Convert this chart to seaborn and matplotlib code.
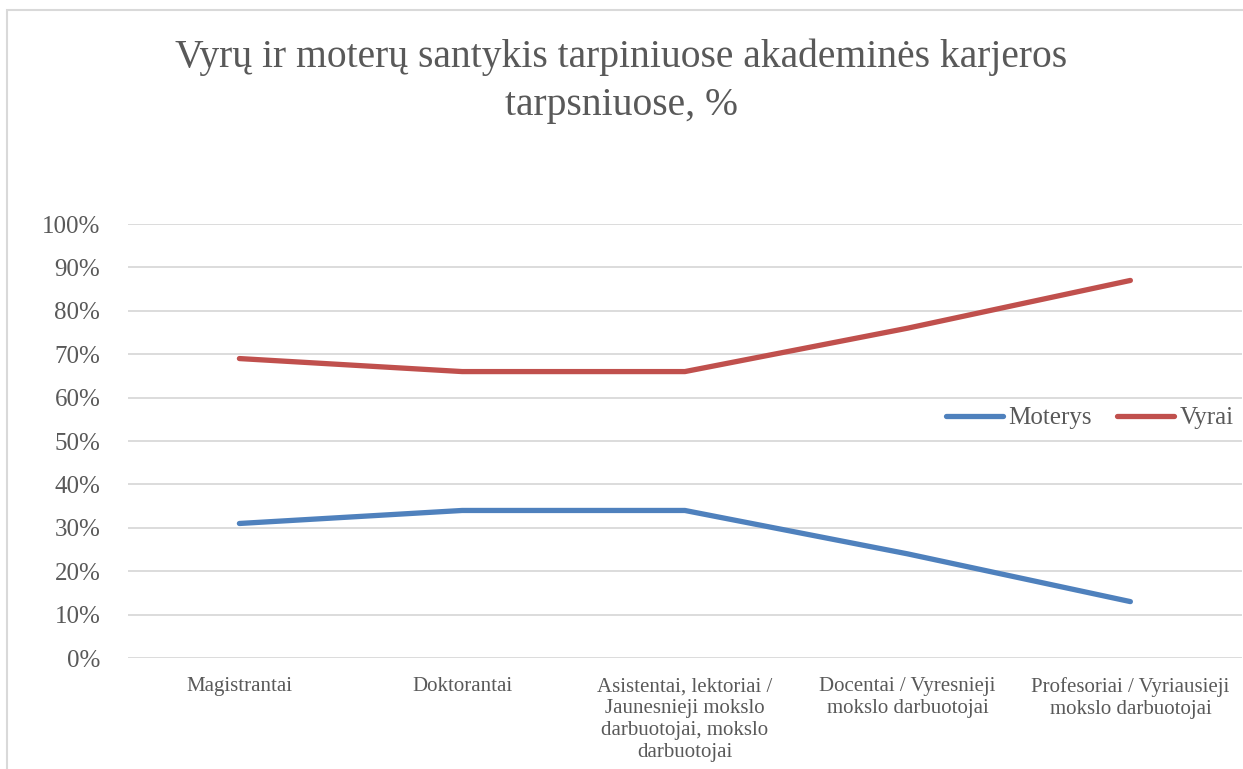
import numpy as np
import pandas as pd
import matplotlib
matplotlib.use("Agg")
import matplotlib.pyplot as plt
from matplotlib.patches import Rectangle
from matplotlib.ticker import PercentFormatter
import seaborn as sns

# data ########################################################################
categories = [
    "Magistrantai",
    "Doktorantai",
    "Asistentai, lektoriai /\nJaunesnieji mokslo\ndarbuotojai, mokslo\ndarbuotojai",
    "Docentai / Vyresnieji\nmokslo darbuotojai",
    "Profesoriai / Vyriausieji\nmokslo darbuotojai",
]
moterys = [0.31, 0.34, 0.34, 0.24, 0.13]
vyrai = [0.69, 0.66, 0.66, 0.76, 0.87]
series_names = ["Moterys", "Vyrai"]
colors = ["#4F81BD", "#C0504D"]

df = pd.DataFrame({
    "pos": list(range(len(categories))) * 2,
    "value": moterys + vyrai,
    "series": [series_names[0]] * len(moterys) + [series_names[1]] * len(vyrai),
})

# style #######################################################################
sns.set_style("white")
plt.rcParams["font.family"] = ["Liberation Serif", "DejaVu Serif"]
text_col = "#595959"

fig = plt.figure(figsize=(12.43, 7.69), dpi=100)
ax = fig.add_axes([0.103, 0.1443, 0.896, 0.5644])

sns.lineplot(data=df, x="pos", y="value", hue="series", palette=colors,
             linewidth=3.8, ax=ax, solid_capstyle="round")

ax.set_xlim(-0.5, len(categories) - 0.5)
ax.set_ylim(0, 1)
ax.set_yticks(np.arange(0, 1.01, 0.1))
ax.yaxis.set_major_formatter(PercentFormatter(1.0, decimals=0))
ax.set_xticks(range(len(categories)))
ax.set_xticklabels(categories, linespacing=1.2)
ax.set_xlabel("")
ax.set_ylabel("")
ax.grid(axis="y", color="#D9D9D9", linewidth=1.3)
ax.set_axisbelow(True)
for s in ax.spines.values():
    s.set_visible(False)
ax.tick_params(axis="y", labelsize=18, colors=text_col, length=0, pad=20)
ax.tick_params(axis="x", labelsize=15, colors=text_col, length=0, pad=14)

leg = ax.legend(loc="center right", bbox_to_anchor=(1.006, 0.553), ncol=2,
                frameon=False, fontsize=18, handlelength=2.3, handletextpad=0.2,
                columnspacing=1.0, labelcolor=text_col, borderaxespad=0.2)
for h in leg.get_lines():
    h.set_linewidth(3.8)

fig.text(0.5, 0.894, "Vyrų ir moterų santykis tarpiniuose akademinės karjeros\ntarpsniuose, %",
         ha="center", va="center", fontsize=28.5, color=text_col, linespacing=1.4)

# chart frame
fig.patches.append(Rectangle((7 / 1243, -0.1), 1.2, 0.1 + 1 - 10 / 769,
                             transform=fig.transFigure, fill=False,
                             edgecolor="#D9D9D9", linewidth=1.5))

fig.savefig("out.png", dpi=100)
